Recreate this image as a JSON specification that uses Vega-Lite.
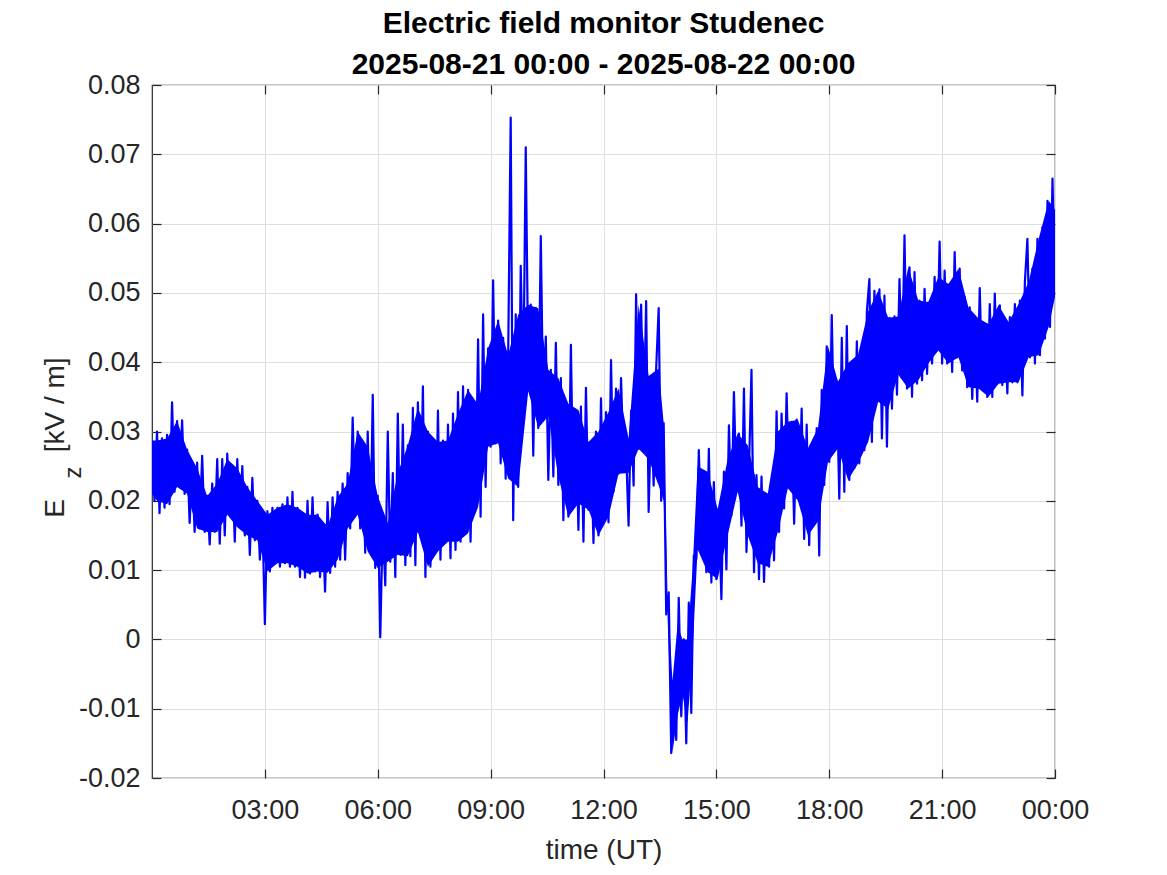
{
  "$schema": "https://vega.github.io/schema/vega-lite/v6.json",
  "width": 903,
  "height": 693,
  "autosize": "none",
  "padding": {"left": 152, "top": 85, "right": 112, "bottom": 97},
  "background": "white",
  "config": {"view": {"stroke": "#262626", "strokeWidth": 1.2}, "font": "Liberation Sans"},
  "title": {
    "text": ["Electric field monitor Studenec", "2025-08-21 00:00 - 2025-08-22 00:00"],
    "font": "Liberation Sans",
    "fontSize": 30,
    "fontWeight": "bold",
    "color": "#000000",
    "anchor": "middle",
    "frame": "group",
    "lineHeight": 41,
    "baseline": "bottom",
    "offset": 0,
    "dy": 39
  },
  "datasets": {
    "trace": [
    {"t":0,"v":0.0287},{"t":4,"v":0.0200},{"t":8,"v":0.0300},{"t":12,"v":0.0182},{"t":16,"v":0.0290},{"t":20,"v":0.0190},{"t":24,"v":0.0295},{"t":28,"v":0.0195},
    {"t":32,"v":0.0342},{"t":36,"v":0.0213},{"t":40,"v":0.0315},{"t":44,"v":0.0220},{"t":48,"v":0.0316},{"t":52,"v":0.0210},{"t":56,"v":0.0274},{"t":60,"v":0.0168},
    {"t":64,"v":0.0247},{"t":68,"v":0.0155},{"t":72,"v":0.0255},{"t":76,"v":0.0160},{"t":80,"v":0.0265},{"t":84,"v":0.0155},{"t":88,"v":0.0207},{"t":92,"v":0.0137},
    {"t":96,"v":0.0225},{"t":100,"v":0.0155},{"t":104,"v":0.0260},{"t":108,"v":0.0138},{"t":112,"v":0.0260},{"t":116,"v":0.0150},{"t":120,"v":0.0268},{"t":124,"v":0.0180},
    {"t":128,"v":0.0247},{"t":132,"v":0.0141},{"t":136,"v":0.0260},{"t":140,"v":0.0162},{"t":144,"v":0.0250},{"t":148,"v":0.0150},{"t":152,"v":0.0220},{"t":156,"v":0.0122},
    {"t":160,"v":0.0233},{"t":164,"v":0.0143},{"t":168,"v":0.0200},{"t":172,"v":0.0115},{"t":176,"v":0.0180},{"t":180,"v":0.0022},{"t":184,"v":0.0185},{"t":188,"v":0.0098},
    {"t":192,"v":0.0190},{"t":196,"v":0.0110},{"t":200,"v":0.0190},{"t":204,"v":0.0105},{"t":208,"v":0.0195},{"t":212,"v":0.0110},{"t":216,"v":0.0205},{"t":220,"v":0.0105},
    {"t":224,"v":0.0213},{"t":228,"v":0.0105},{"t":232,"v":0.0190},{"t":236,"v":0.0090},{"t":240,"v":0.0180},{"t":244,"v":0.0089},{"t":248,"v":0.0200},{"t":252,"v":0.0095},
    {"t":256,"v":0.0205},{"t":260,"v":0.0098},{"t":264,"v":0.0180},{"t":268,"v":0.0090},{"t":272,"v":0.0163},{"t":276,"v":0.0069},{"t":280,"v":0.0198},{"t":284,"v":0.0096},
    {"t":288,"v":0.0205},{"t":292,"v":0.0105},{"t":296,"v":0.0213},{"t":300,"v":0.0115},{"t":304,"v":0.0225},{"t":308,"v":0.0115},{"t":312,"v":0.0240},{"t":316,"v":0.0160},
    {"t":320,"v":0.0320},{"t":324,"v":0.0180},{"t":328,"v":0.0300},{"t":332,"v":0.0160},{"t":336,"v":0.0278},{"t":340,"v":0.0125},{"t":344,"v":0.0300},{"t":348,"v":0.0127},
    {"t":352,"v":0.0353},{"t":356,"v":0.0103},{"t":360,"v":0.0207},{"t":364,"v":0.0003},{"t":368,"v":0.0168},{"t":372,"v":0.0078},{"t":376,"v":0.0300},{"t":380,"v":0.0112},
    {"t":384,"v":0.0240},{"t":388,"v":0.0090},{"t":392,"v":0.0326},{"t":396,"v":0.0122},{"t":400,"v":0.0310},{"t":404,"v":0.0107},{"t":408,"v":0.0280},{"t":412,"v":0.0120},
    {"t":416,"v":0.0334},{"t":420,"v":0.0107},{"t":424,"v":0.0342},{"t":428,"v":0.0155},{"t":432,"v":0.0365},{"t":436,"v":0.0090},{"t":440,"v":0.0300},{"t":444,"v":0.0105},
    {"t":448,"v":0.0285},{"t":452,"v":0.0127},{"t":456,"v":0.0330},{"t":460,"v":0.0115},{"t":464,"v":0.0287},{"t":468,"v":0.0141},{"t":472,"v":0.0310},{"t":476,"v":0.0117},
    {"t":480,"v":0.0326},{"t":484,"v":0.0129},{"t":488,"v":0.0357},{"t":492,"v":0.0141},{"t":496,"v":0.0365},{"t":500,"v":0.0153},{"t":504,"v":0.0360},{"t":508,"v":0.0141},
    {"t":512,"v":0.0339},{"t":516,"v":0.0191},{"t":520,"v":0.0433},{"t":524,"v":0.0177},{"t":528,"v":0.0469},{"t":532,"v":0.0220},{"t":536,"v":0.0420},{"t":540,"v":0.0278},
    {"t":544,"v":0.0518},{"t":548,"v":0.0283},{"t":552,"v":0.0460},{"t":556,"v":0.0254},{"t":560,"v":0.0435},{"t":564,"v":0.0232},{"t":568,"v":0.0410},{"t":572,"v":0.0753},
    {"t":576,"v":0.0172},{"t":580,"v":0.0469},{"t":584,"v":0.0220},{"t":588,"v":0.0539},{"t":592,"v":0.0358},{"t":596,"v":0.0710},{"t":600,"v":0.0389},{"t":604,"v":0.0483},
    {"t":608,"v":0.0265},{"t":612,"v":0.0478},{"t":616,"v":0.0305},{"t":620,"v":0.0582},{"t":624,"v":0.0322},{"t":628,"v":0.0437},{"t":632,"v":0.0230},{"t":636,"v":0.0389},
    {"t":640,"v":0.0235},{"t":644,"v":0.0428},{"t":648,"v":0.0223},{"t":652,"v":0.0377},{"t":656,"v":0.0172},{"t":660,"v":0.0340},{"t":664,"v":0.0177},{"t":668,"v":0.0425},
    {"t":672,"v":0.0196},{"t":676,"v":0.0331},{"t":680,"v":0.0158},{"t":684,"v":0.0336},{"t":688,"v":0.0141},{"t":692,"v":0.0363},{"t":696,"v":0.0187},{"t":700,"v":0.0285},
    {"t":704,"v":0.0139},{"t":708,"v":0.0300},{"t":712,"v":0.0150},{"t":716,"v":0.0348},{"t":720,"v":0.0177},{"t":724,"v":0.0328},{"t":728,"v":0.0169},{"t":732,"v":0.0403},
    {"t":736,"v":0.0213},{"t":740,"v":0.0362},{"t":744,"v":0.0239},{"t":748,"v":0.0377},{"t":752,"v":0.0251},{"t":756,"v":0.0275},{"t":760,"v":0.0164},{"t":764,"v":0.0330},
    {"t":768,"v":0.0222},{"t":772,"v":0.0498},{"t":776,"v":0.0275},{"t":780,"v":0.0483},{"t":784,"v":0.0295},{"t":788,"v":0.0488},{"t":792,"v":0.0184},{"t":796,"v":0.0331},
    {"t":800,"v":0.0222},{"t":804,"v":0.0391},{"t":808,"v":0.0478},{"t":812,"v":0.0200},{"t":816,"v":0.0312},{"t":820,"v":0.0036},{"t":824,"v":0.0068},{"t":828,"v":-0.0164},
    {"t":832,"v":-0.0060},{"t":836,"v":-0.0145},{"t":840,"v":0.0060},{"t":844,"v":-0.0111},{"t":848,"v":0.0000},{"t":852,"v":-0.0150},{"t":856,"v":0.0053},{"t":860,"v":-0.0106},
    {"t":864,"v":0.0121},{"t":868,"v":0.0116},{"t":872,"v":0.0273},{"t":876,"v":0.0150},{"t":880,"v":0.0242},{"t":884,"v":0.0097},{"t":888,"v":0.0275},{"t":892,"v":0.0082},
    {"t":896,"v":0.0227},{"t":900,"v":0.0087},{"t":904,"v":0.0188},{"t":908,"v":0.0058},{"t":912,"v":0.0242},{"t":916,"v":0.0101},{"t":920,"v":0.0309},{"t":924,"v":0.0179},
    {"t":928,"v":0.0357},{"t":932,"v":0.0213},{"t":936,"v":0.0297},{"t":940,"v":0.0164},{"t":944,"v":0.0362},{"t":948,"v":0.0126},{"t":952,"v":0.0246},{"t":956,"v":0.0389},
    {"t":960,"v":0.0097},{"t":964,"v":0.0237},{"t":968,"v":0.0087},{"t":972,"v":0.0235},{"t":976,"v":0.0083},{"t":980,"v":0.0210},{"t":984,"v":0.0105},{"t":988,"v":0.0230},
    {"t":992,"v":0.0114},{"t":996,"v":0.0329},{"t":1000,"v":0.0155},{"t":1004,"v":0.0326},{"t":1008,"v":0.0189},{"t":1012,"v":0.0355},{"t":1016,"v":0.0218},{"t":1020,"v":0.0314},
    {"t":1024,"v":0.0167},{"t":1028,"v":0.0317},{"t":1032,"v":0.0200},{"t":1036,"v":0.0333},{"t":1040,"v":0.0145},{"t":1044,"v":0.0310},{"t":1048,"v":0.0136},{"t":1052,"v":0.0276},
    {"t":1056,"v":0.0170},{"t":1060,"v":0.0305},{"t":1064,"v":0.0121},{"t":1068,"v":0.0360},{"t":1072,"v":0.0223},{"t":1076,"v":0.0423},{"t":1080,"v":0.0256},{"t":1084,"v":0.0468},
    {"t":1088,"v":0.0276},{"t":1092,"v":0.0372},{"t":1096,"v":0.0203},{"t":1100,"v":0.0435},{"t":1104,"v":0.0213},{"t":1108,"v":0.0452},{"t":1112,"v":0.0230},{"t":1116,"v":0.0399},
    {"t":1120,"v":0.0247},{"t":1124,"v":0.0430},{"t":1128,"v":0.0254},{"t":1132,"v":0.0411},{"t":1136,"v":0.0273},{"t":1140,"v":0.0473},{"t":1144,"v":0.0520},{"t":1148,"v":0.0285},
    {"t":1152,"v":0.0503},{"t":1156,"v":0.0343},{"t":1160,"v":0.0505},{"t":1164,"v":0.0290},{"t":1168,"v":0.0496},{"t":1172,"v":0.0278},{"t":1176,"v":0.0464},{"t":1180,"v":0.0333},
    {"t":1184,"v":0.0466},{"t":1188,"v":0.0353},{"t":1192,"v":0.0520},{"t":1196,"v":0.0382},{"t":1200,"v":0.0583},{"t":1204,"v":0.0362},{"t":1208,"v":0.0537},{"t":1212,"v":0.0350},
    {"t":1216,"v":0.0530},{"t":1220,"v":0.0369},{"t":1224,"v":0.0489},{"t":1228,"v":0.0374},{"t":1232,"v":0.0506},{"t":1236,"v":0.0383},{"t":1240,"v":0.0487},{"t":1244,"v":0.0398},
    {"t":1248,"v":0.0523},{"t":1252,"v":0.0417},{"t":1256,"v":0.0574},{"t":1260,"v":0.0398},{"t":1264,"v":0.0532},{"t":1268,"v":0.0398},{"t":1272,"v":0.0513},{"t":1276,"v":0.0386},
    {"t":1280,"v":0.0559},{"t":1284,"v":0.0407},{"t":1288,"v":0.0535},{"t":1292,"v":0.0388},{"t":1296,"v":0.0494},{"t":1300,"v":0.0364},{"t":1304,"v":0.0479},{"t":1308,"v":0.0347},
    {"t":1312,"v":0.0463},{"t":1316,"v":0.0343},{"t":1320,"v":0.0507},{"t":1324,"v":0.0362},{"t":1328,"v":0.0455},{"t":1332,"v":0.0350},{"t":1336,"v":0.0484},{"t":1340,"v":0.0350},
    {"t":1344,"v":0.0499},{"t":1348,"v":0.0369},{"t":1352,"v":0.0482},{"t":1356,"v":0.0367},{"t":1360,"v":0.0458},{"t":1364,"v":0.0355},{"t":1368,"v":0.0465},{"t":1372,"v":0.0371},
    {"t":1376,"v":0.0484},{"t":1380,"v":0.0371},{"t":1384,"v":0.0489},{"t":1388,"v":0.0352},{"t":1392,"v":0.0516},{"t":1396,"v":0.0578},{"t":1400,"v":0.0407},{"t":1404,"v":0.0535},
    {"t":1408,"v":0.0398},{"t":1412,"v":0.0578},{"t":1416,"v":0.0410},{"t":1420,"v":0.0595},{"t":1424,"v":0.0434},{"t":1428,"v":0.0633},{"t":1432,"v":0.0451},{"t":1436,"v":0.0665},
    {"t":1440,"v":0.0494}
    ],
    "core": [
    {"t":0,"lo":0.0210,"hi":0.0287},{"t":8,"lo":0.0200,"hi":0.0287},{"t":24,"lo":0.0195,"hi":0.0290},{"t":40,"lo":0.0220,"hi":0.0315},{"t":56,"lo":0.0210,"hi":0.0274},
    {"t":72,"lo":0.0160,"hi":0.0247},{"t":88,"lo":0.0155,"hi":0.0207},{"t":104,"lo":0.0155,"hi":0.0225},{"t":120,"lo":0.0180,"hi":0.0260},{"t":136,"lo":0.0162,"hi":0.0247},
    {"t":152,"lo":0.0150,"hi":0.0220},{"t":168,"lo":0.0143,"hi":0.0200},{"t":184,"lo":0.0098,"hi":0.0180},{"t":200,"lo":0.0110,"hi":0.0190},{"t":216,"lo":0.0110,"hi":0.0195},
    {"t":232,"lo":0.0105,"hi":0.0190},{"t":248,"lo":0.0095,"hi":0.0180},{"t":264,"lo":0.0098,"hi":0.0180},{"t":280,"lo":0.0096,"hi":0.0163},{"t":296,"lo":0.0115,"hi":0.0205},
    {"t":312,"lo":0.0160,"hi":0.0225},{"t":328,"lo":0.0180,"hi":0.0300},{"t":344,"lo":0.0127,"hi":0.0278},{"t":360,"lo":0.0103,"hi":0.0207},{"t":376,"lo":0.0112,"hi":0.0168},
    {"t":392,"lo":0.0122,"hi":0.0240},{"t":408,"lo":0.0120,"hi":0.0280},{"t":424,"lo":0.0155,"hi":0.0334},{"t":440,"lo":0.0105,"hi":0.0300},{"t":456,"lo":0.0127,"hi":0.0285},
    {"t":472,"lo":0.0141,"hi":0.0287},{"t":488,"lo":0.0141,"hi":0.0326},{"t":504,"lo":0.0153,"hi":0.0360},{"t":520,"lo":0.0191,"hi":0.0339},{"t":536,"lo":0.0278,"hi":0.0420},
    {"t":552,"lo":0.0283,"hi":0.0460},{"t":568,"lo":0.0232,"hi":0.0410},{"t":584,"lo":0.0220,"hi":0.0469},{"t":600,"lo":0.0358,"hi":0.0483},{"t":616,"lo":0.0305,"hi":0.0478},
    {"t":632,"lo":0.0322,"hi":0.0389},{"t":648,"lo":0.0235,"hi":0.0377},{"t":664,"lo":0.0177,"hi":0.0340},{"t":680,"lo":0.0196,"hi":0.0331},{"t":696,"lo":0.0187,"hi":0.0285},
    {"t":712,"lo":0.0150,"hi":0.0300},{"t":728,"lo":0.0177,"hi":0.0328},{"t":744,"lo":0.0239,"hi":0.0362},{"t":760,"lo":0.0240,"hi":0.0290},{"t":776,"lo":0.0275,"hi":0.0483},
    {"t":792,"lo":0.0260,"hi":0.0380},{"t":808,"lo":0.0222,"hi":0.0391},{"t":816,"lo":0.0200,"hi":0.0312},{"t":822,"lo":0.0036,"hi":0.0068},{"t":830,"lo":-0.0164,"hi":-0.0060},
    {"t":838,"lo":-0.0110,"hi":0.0020},{"t":846,"lo":-0.0080,"hi":0.0000},{"t":854,"lo":-0.0120,"hi":0.0000},{"t":862,"lo":-0.0020,"hi":0.0100},{"t":870,"lo":0.0130,"hi":0.0250},
    {"t":886,"lo":0.0097,"hi":0.0242},{"t":902,"lo":0.0087,"hi":0.0188},{"t":918,"lo":0.0150,"hi":0.0260},{"t":934,"lo":0.0213,"hi":0.0297},{"t":950,"lo":0.0150,"hi":0.0280},
    {"t":966,"lo":0.0110,"hi":0.0220},{"t":982,"lo":0.0105,"hi":0.0210},{"t":998,"lo":0.0155,"hi":0.0300},{"t":1014,"lo":0.0218,"hi":0.0314},{"t":1030,"lo":0.0200,"hi":0.0317},
    {"t":1046,"lo":0.0150,"hi":0.0276},{"t":1062,"lo":0.0170,"hi":0.0305},{"t":1078,"lo":0.0256,"hi":0.0423},{"t":1094,"lo":0.0276,"hi":0.0372},{"t":1110,"lo":0.0230,"hi":0.0399},
    {"t":1126,"lo":0.0254,"hi":0.0411},{"t":1142,"lo":0.0285,"hi":0.0473},{"t":1158,"lo":0.0343,"hi":0.0503},{"t":1174,"lo":0.0333,"hi":0.0464},{"t":1190,"lo":0.0382,"hi":0.0466},
    {"t":1206,"lo":0.0362,"hi":0.0537},{"t":1222,"lo":0.0374,"hi":0.0489},{"t":1238,"lo":0.0398,"hi":0.0487},{"t":1254,"lo":0.0417,"hi":0.0523},{"t":1270,"lo":0.0398,"hi":0.0513},
    {"t":1286,"lo":0.0407,"hi":0.0535},{"t":1302,"lo":0.0364,"hi":0.0479},{"t":1318,"lo":0.0362,"hi":0.0463},{"t":1334,"lo":0.0350,"hi":0.0455},{"t":1350,"lo":0.0369,"hi":0.0482},
    {"t":1366,"lo":0.0371,"hi":0.0458},{"t":1382,"lo":0.0371,"hi":0.0484},{"t":1398,"lo":0.0407,"hi":0.0516},{"t":1414,"lo":0.0410,"hi":0.0578},{"t":1430,"lo":0.0451,"hi":0.0633},
    {"t":1440,"lo":0.0494,"hi":0.0620}
    ]
  },
  "layer": [
    {
      "data": {"name": "core"},
      "mark": {"type": "area", "color": "#0000ff", "opacity": 1, "clip": true},
      "encoding": {
        "x": {
          "field": "t", "type": "quantitative",
          "scale": {"domain": [0, 1440], "nice": false, "zero": false},
          "axis": {
            "orient": "bottom",
            "values": [180, 360, 540, 720, 900, 1080, 1260, 1440],
            "labelExpr": "datum.value == 1440 ? '00:00' : (datum.value < 600 ? '0' : '') + floor(datum.value / 60) + ':00'",
            "title": "time (UT)",
            "grid": true, "gridColor": "#dfdfdf", "gridWidth": 1,
            "domain": false,
            "tickSize": -9, "tickColor": "#262626", "tickWidth": 1.2,
            "labelFont": "Liberation Sans", "labelFontSize": 27, "labelColor": "#262626",
            "labelBaseline": "alphabetic", "labelPadding": 49, "labelFlush": false,
            "titleFont": "Liberation Sans", "titleFontSize": 28, "titleFontWeight": "normal", "titleColor": "#262626",
            "titleBaseline": "alphabetic", "titleY": 80
          }
        },
        "y": {
          "field": "lo", "type": "quantitative",
          "scale": {"domain": [-0.02, 0.08], "nice": false, "zero": false},
          "axis": {
            "orient": "left",
            "values": [-0.02, -0.01, 0, 0.01, 0.02, 0.03, 0.04, 0.05, 0.06, 0.07, 0.08],
            "labelExpr": "datum.value == 0 ? '0' : replace(format(datum.value, '.2f'), '\u2212', '-')",
            "title": "E\u00a0\u00a0\u00a0\u00a0\u00a0\u00a0[kV / m]",
            "grid": true, "gridColor": "#dfdfdf", "gridWidth": 1,
            "domain": false,
            "tickSize": -9, "tickColor": "#262626", "tickWidth": 1.2,
            "labelFont": "Liberation Sans", "labelFontSize": 27, "labelColor": "#262626",
            "labelPadding": 21, "labelFlush": false, "labelBaseline": "middle",
            "titleFont": "Liberation Sans", "titleFontSize": 28, "titleFontWeight": "normal", "titleColor": "#262626",
            "titleAngle": 270, "titleAlign": "center", "titleBaseline": "alphabetic",
            "titleX": -89, "titleY": 352
          }
        },
        "y2": {"field": "hi"}
      }
    },
    {
      "data": {"name": "trace"},
      "mark": {"type": "line", "color": "#0000ff", "strokeWidth": 2.2, "strokeJoin": "round", "clip": true},
      "encoding": {
        "x": {"field": "t", "type": "quantitative", "scale": {"domain": [0, 1440], "nice": false, "zero": false}, "axis": null},
        "y": {"field": "v", "type": "quantitative", "scale": {"domain": [-0.02, 0.08], "nice": false, "zero": false}, "axis": null}
      }
    },
    {
      "data": {"name": "trace"},
      "mark": {"type": "line", "strokeOpacity": 0, "clip": true},
      "encoding": {
        "x": {
          "field": "t", "type": "quantitative",
          "scale": {"domain": [0, 1440], "nice": false, "zero": false},
          "axis": {
            "orient": "top",
            "values": [180, 360, 540, 720, 900, 1080, 1260, 1440],
            "labels": false, "title": null, "grid": false, "domain": false,
            "tickSize": -9, "tickColor": "#262626", "tickWidth": 1.2
          }
        },
        "y": {
          "field": "v", "type": "quantitative",
          "scale": {"domain": [-0.02, 0.08], "nice": false, "zero": false},
          "axis": {
            "orient": "right",
            "values": [-0.02, -0.01, 0, 0.01, 0.02, 0.03, 0.04, 0.05, 0.06, 0.07, 0.08],
            "labels": false, "grid": false, "domain": false,
            "tickSize": -9, "tickColor": "#262626", "tickWidth": 1.2,
            "title": "z",
            "titleFont": "Liberation Sans", "titleFontSize": 24, "titleFontWeight": "normal", "titleColor": "#262626",
            "titleAngle": 270, "titleAlign": "center", "titleBaseline": "alphabetic",
            "titleX": -975, "titleY": 387
          }
        }
      }
    }
  ],
  "resolve": {"axis": {"x": "independent", "y": "independent"}}
}
